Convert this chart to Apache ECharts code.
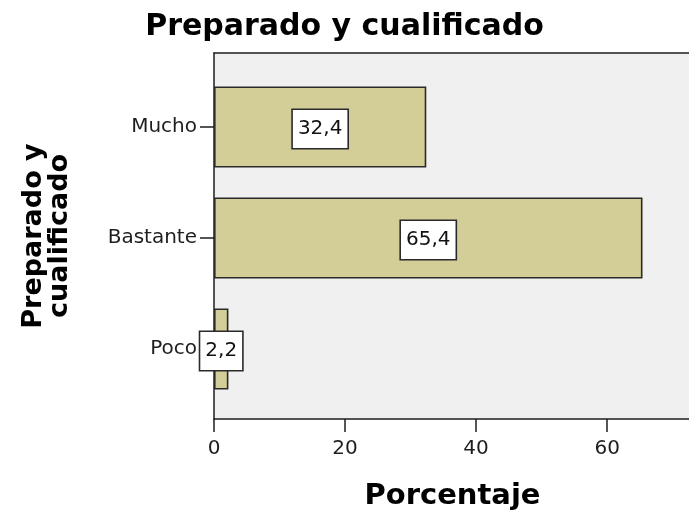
<!DOCTYPE html>
<html>
<head>
<meta charset="utf-8">
<script src="https://cdn.jsdelivr.net/npm/echarts@6/dist/echarts.min.js"></script>
<style>
  html, body { margin: 0; padding: 0; background: #fff; overflow: hidden; }
  #chart { width: 689px; height: 520px; }
</style>
</head>
<body>
<div id="chart"></div>
<script>
// Categories (top to bottom) and percentages
const categories = ['Mucho', 'Bastante', 'Poco'];
const percentages = [32.4, 65.4, 2.2];
const xTicks = [0, 20, 40, 60];

const FONT = '"DejaVu Sans", sans-serif';
const X_MAX = 72.8;   // plot runs just past the right edge of the page
const INK = '#1e1e1e';

const chart = echarts.init(document.getElementById('chart'));

chart.setOption({
  backgroundColor: '#ffffff',
  animation: false,
  title: {
    text: 'Preparado y cualificado',
    left: 'center',
    top: 7,
    textStyle: { fontFamily: FONT, fontSize: 30, fontWeight: 'bold', color: '#000' }
  },
  grid: [
    // plot frame with grey background
    { left: 214, top: 53, right: -2, bottom: 101, show: true, backgroundColor: '#f0f0f0', borderWidth: 0, outerBoundsMode: 'none' },
    // bar area
    { left: 214, top: 71.5, right: -2, bottom: 115.5, outerBoundsMode: 'none' }
  ],
  xAxis: [
    {
      gridIndex: 0, type: 'value', min: 0, max: X_MAX, interval: 20,
      name: 'Porcentaje', nameLocation: 'middle', nameGap: 63,
      nameTextStyle: { fontFamily: FONT, fontSize: 29, fontWeight: 'bold', color: '#000', padding: [0, 0, 0, 0] },
      axisLine: { show: true, lineStyle: { color: INK, width: 1.5 } },
      axisTick: { show: true, length: 13, lineStyle: { color: INK, width: 1.5 } },
      axisLabel: {
        fontFamily: FONT, fontSize: 20, color: INK, margin: 20,
        formatter: v => xTicks.includes(v) ? String(v) : ''
      },
      splitLine: { show: false }
    },
    {
      gridIndex: 0, type: 'value', position: 'top', min: 0, max: X_MAX,
      axisLine: { show: true, lineStyle: { color: INK, width: 1.5 } },
      axisTick: { show: false }, axisLabel: { show: false }, splitLine: { show: false }
    },
    {
      gridIndex: 1, type: 'value', min: 0, max: X_MAX, show: false
    }
  ],
  yAxis: [
    {
      gridIndex: 0, type: 'value', min: 0, max: 1,
      name: 'Preparado y\ncualificado', nameLocation: 'middle', nameGap: 141,
      nameTextStyle: { fontFamily: FONT, fontSize: 27, fontWeight: 'bold', color: '#000', lineHeight: 26 },
      axisLine: { show: true, lineStyle: { color: INK, width: 1.5 } },
      axisTick: { show: false }, axisLabel: { show: false }, splitLine: { show: false }
    },
    {
      gridIndex: 1, type: 'category', data: categories, inverse: true,
      axisLine: { show: false },
      axisTick: { show: true, alignWithLabel: true, length: 14, lineStyle: { color: INK, width: 1.5 } },
      axisLabel: { fontFamily: FONT, fontSize: 20, color: INK, margin: 17 }
    }
  ],
  series: [
    {
      type: 'bar',
      xAxisIndex: 2, yAxisIndex: 1,
      data: percentages,
      barCategoryGap: '27%',
      itemStyle: { color: '#d3cd97', borderColor: '#2a2a2a', borderWidth: 1.6 },
      label: {
        show: true, position: 'inside', offset: [0, 2],
        formatter: p => String(p.value).replace('.', ','),
        fontFamily: FONT, fontSize: 20, color: '#111',
        backgroundColor: '#ffffff', borderColor: '#2a2a2a', borderWidth: 1.6,
        padding: [10, 5, 8, 5]
      }
    }
  ]
});
</script>
</body>
</html>
